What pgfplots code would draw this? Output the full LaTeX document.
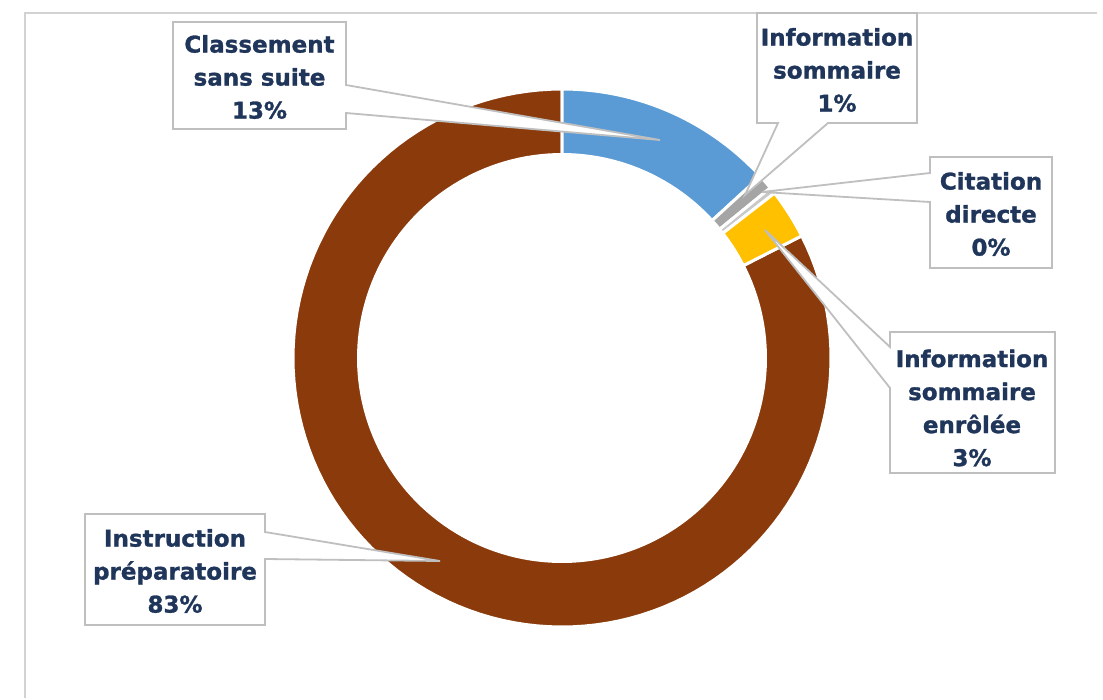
\documentclass[border=0pt]{standalone}
\usepackage{pgfplots}
\pgfplotsset{compat=1.18}
\usepackage{fontspec}
\setmainfont{DejaVu Sans}[BoldFeatures={FakeBold=1.2}]

\definecolor{brun}{HTML}{8A3A0B}
\definecolor{bleu}{HTML}{5B9BD5}
\definecolor{gris}{HTML}{A5A5A5}
\definecolor{jaune}{HTML}{FFC000}
\definecolor{citation}{HTML}{C9C9C9}
\definecolor{marine}{HTML}{1F355A}
\definecolor{cadre}{HTML}{BFBFBF}

% donut centre (562,358), outer radius 269, inner radius 205
% #1 colour, #2 start (%), #3 end (%), clockwise from the top
\newcommand{\slice}[3]{%
  \addplot[fill=#1, draw=white, line width=3pt, line join=round,
    domain=#2*3.6:#3*3.6, samples=120]
    ({562+269*sin(x)},{358-269*cos(x)}) -- (562,358) -- cycle;}

\begin{document}
\begin{tikzpicture}
\begin{axis}[
  scale only axis, width=1103pt, height=698pt,
  xmin=0, xmax=1103, ymin=0, ymax=698, y dir=reverse,
  hide axis, clip=false,
]
\path (0,0) rectangle (1103,698);

% parts (percent): 13.2, 0.9, 0.4, 3.0, 82.5
\slice{brun}{17.5}{100}
\slice{bleu}{0}{13.2}
\slice{gris}{13.2}{14.1}
\slice{citation}{14.1}{14.5}
\slice{jaune}{14.5}{17.5}
\addplot[fill=white, draw=none, domain=0:360, samples=180]
  ({562+205*sin(x)},{358-205*cos(x)}) -- cycle;

% chart frame
\draw[cadre!70, line width=2pt] (25,698) -- (25,13) -- (1097,13);

% callouts
\tikzset{callout/.style={fill=white, draw=cadre, line width=1.8pt, line join=miter}}
\draw[callout] (173,22) -- (346,22) -- (346,85) -- (660,140) -- (346,113)
  -- (346,129) -- (173,129) -- cycle;
\draw[callout] (757,13) -- (917,13) -- (917,123) -- (828,123) -- (745,195)
  -- (778,123) -- (757,123) -- cycle;
\draw[callout] (930,157) -- (1052,157) -- (1052,268) -- (930,268) -- (930,202)
  -- (762,192) -- (930,173) -- cycle;
\draw[callout] (890,332) -- (1055,332) -- (1055,473) -- (890,473) -- (890,388)
  -- (765,230) -- (890,347) -- cycle;
\draw[callout] (85,514) -- (265,514) -- (265,532) -- (440,561) -- (265,559)
  -- (265,625) -- (85,625) -- cycle;

\tikzset{lab/.style={align=center, text=marine, inner sep=0pt,
  font=\bfseries\fontsize{23}{33}\selectfont}}
\node[lab] at (259.5,77) {Classement\\sans suite\\13\%};
\node[lab] at (837,70) {Information\\sommaire\\1\%};
\node[lab] at (991,214) {Citation\\directe\\0\%};
\node[lab] at (972,408) {Information\\sommaire\\enrôlée\\3\%};
\node[lab] at (175,571) {Instruction\\préparatoire\\83\%};
\end{axis}
\end{tikzpicture}
\end{document}
